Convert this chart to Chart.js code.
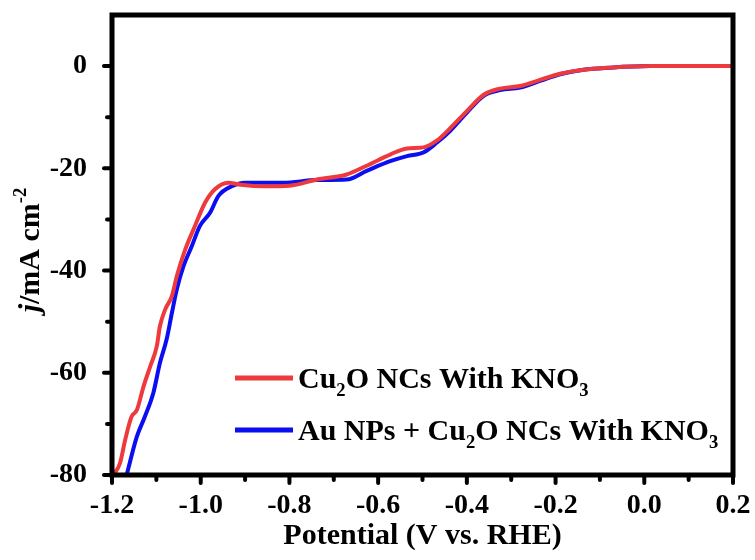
<!DOCTYPE html>
<html>
<head>
<meta charset="utf-8">
<script src="https://cdn.jsdelivr.net/npm/chart.js@4.4.1/dist/chart.umd.min.js"></script>
<style>
  html, body { margin: 0; padding: 0; background: #fff; }
  #wrap { width: 755px; height: 560px; }
</style>
</head>
<body>
<div id="wrap"><canvas id="lsv"></canvas></div>
<script>
// LSV curves, potential in V vs. RHE, current density in mA cm-2
const cu2oPotential = [-1.197, -1.182, -1.170, -1.156, -1.144, -1.129, -1.114, -1.099, -1.092, -1.080,
  -1.065, -1.054, -1.035, -1.013, -0.990, -0.968, -0.938, -0.910, -0.855, -0.800, -0.738, -0.671,
  -0.626, -0.573, -0.535, -0.498, -0.468, -0.438, -0.400, -0.362, -0.325, -0.280, -0.235, -0.190,
  -0.137, -0.077, 0.013, 0.100, 0.200];
const cu2oCurrent = [-80, -77.7, -73.0, -68.6, -67.3, -62.7, -58.8, -54.8, -50.9, -47.6,
  -45.0, -41.1, -35.9, -31.3, -26.7, -24.1, -22.8, -23.2, -23.5, -23.4, -22.2, -21.2,
  -19.5, -17.3, -16.1, -15.9, -14.6, -12.2, -8.8, -5.6, -4.4, -3.9, -2.7, -1.5,
  -0.7, -0.3, 0, 0, 0];

const auCu2oPotential = [-1.167, -1.144, -1.126, -1.107, -1.092, -1.077, -1.065, -1.054, -1.039, -1.020,
  -1.002, -0.979, -0.960, -0.930, -0.900, -0.855, -0.814, -0.738, -0.671, -0.626, -0.573, -0.535,
  -0.498, -0.468, -0.438, -0.400, -0.362, -0.325, -0.280, -0.235, -0.190, -0.137, -0.077, 0.013,
  0.100, 0.200];
const auCu2oCurrent = [-80, -72.5, -68.6, -64.0, -58.1, -53.5, -48.3, -43.7, -39.2, -35.2,
  -31.3, -28.7, -25.4, -23.5, -22.8, -22.8, -22.8, -22.3, -22.2, -20.5, -18.6, -17.6,
  -16.9, -15.0, -12.7, -9.1, -5.8, -4.7, -4.2, -2.9, -1.6, -0.7, -0.3, 0,
  0, 0];

const xMajor = [-1.2, -1.0, -0.8, -0.6, -0.4, -0.2, 0.0, 0.2];
const xMinor = [-1.1, -0.9, -0.7, -0.5, -0.3, -0.1, 0.1];
const yMajor = [-80, -60, -40, -20, 0];
const yMinor = [-70, -50, -30, -10];

const RED = '#ee3a3d';
const BLUE = '#0a0ef0';
const SERIF = '"Liberation Serif", "Times New Roman", serif';

function toPoints(xs, ys) {
  return xs.map((x, i) => ({ x: x, y: ys[i] }));
}

function fmtPotential(v) {
  return Math.abs(v) < 1e-9 ? '0.0' : v.toFixed(1);
}

// draws text pieces in a row, subscripts/superscripts shifted and smaller
function drawRich(ctx, parts, x, y, size) {
  parts.forEach(p => {
    let fs = size, dy = 0;
    if (p.sub) { fs = size * 0.62; dy = size * 0.25; }
    if (p.sup) { fs = size * 0.62; dy = -size * 0.42; }
    ctx.font = (p.italic ? 'italic ' : '') + 'bold ' + fs + 'px ' + SERIF;
    ctx.fillText(p.t, x, y + dy);
    x += ctx.measureText(p.t).width;
  });
}

// keep the plot box at a fixed size, no extra room for end labels
function fixBox(size) {
  return s => {
    if (s.isHorizontal()) s.height = size; else s.width = size;
    s.paddingTop = 0; s.paddingBottom = 0; s.paddingLeft = 0; s.paddingRight = 0;
  };
}

// frame, ticks, x labels, axis titles and legend
const framePlugin = {
  id: 'frame',
  afterDatasetsDraw(chart) {
    const ctx = chart.ctx;
    const a = chart.chartArea;
    const xs = chart.scales.x, ys = chart.scales.y;
    ctx.save();
    ctx.strokeStyle = '#000';
    ctx.lineWidth = 5;
    ctx.strokeRect(a.left, a.top, a.right - a.left, a.bottom - a.top);

    ctx.lineWidth = 4;
    ctx.lineCap = 'round';
    const tick = (x1, y1, x2, y2) => { ctx.beginPath(); ctx.moveTo(x1, y1); ctx.lineTo(x2, y2); ctx.stroke(); };
    xMajor.forEach(v => { const p = xs.getPixelForValue(v); tick(p, a.bottom, p, a.bottom + 8); });
    xMinor.forEach(v => { const p = xs.getPixelForValue(v); tick(p, a.bottom, p, a.bottom + 5); });
    yMajor.forEach(v => { const p = ys.getPixelForValue(v); tick(a.left, p, a.left - 8, p); });
    yMinor.forEach(v => { const p = ys.getPixelForValue(v); tick(a.left, p, a.left - 5, p); });

    ctx.fillStyle = '#000';
    ctx.textBaseline = 'alphabetic';
    ctx.textAlign = 'center';

    // x tick labels
    ctx.font = 'bold 28px ' + SERIF;
    xMajor.forEach(v => ctx.fillText(fmtPotential(v), xs.getPixelForValue(v), a.bottom + 38));

    // axis titles
    ctx.font = 'bold 30px ' + SERIF;
    ctx.fillText('Potential (V vs. RHE)', (a.left + a.right) / 2, 544);

    ctx.textAlign = 'left';
    const yTitle = [{ t: 'j', italic: true }, { t: '/mA cm' }, { t: '-2', sup: true }];
    let w = 0;
    yTitle.forEach(p => {
      const fs = p.sup ? 30 * 0.62 : 30;
      ctx.font = (p.italic ? 'italic ' : '') + 'bold ' + fs + 'px ' + SERIF;
      w += ctx.measureText(p.t).width;
    });
    ctx.translate(39, 250);
    ctx.rotate(-Math.PI / 2);
    drawRich(ctx, yTitle, -w / 2, 0, 30);
    ctx.setTransform(1, 0, 0, 1, 0, 0);

    // legend
    const rows = [
      { color: RED, y: a.top + 363, parts: [{ t: 'Cu' }, { t: '2', sub: true }, { t: 'O NCs With KNO' }, { t: '3', sub: true }] },
      { color: BLUE, y: a.top + 415, parts: [{ t: 'Au NPs + Cu' }, { t: '2', sub: true }, { t: 'O NCs With KNO' }, { t: '3', sub: true }] }
    ];
    rows.forEach(r => {
      ctx.strokeStyle = r.color;
      ctx.lineWidth = 5;
      ctx.lineCap = 'butt';
      tick(a.left + 123, r.y, a.left + 181, r.y);
      drawRich(ctx, r.parts, a.left + 186, r.y + 10, 30);
    });
    ctx.restore();
  }
};

new Chart(document.getElementById('lsv'), {
  type: 'line',
  data: {
    datasets: [
      {
        label: 'Cu2O NCs With KNO3',
        data: toPoints(cu2oPotential, cu2oCurrent),
        borderColor: RED,
        borderWidth: 4,
        pointRadius: 0,
        cubicInterpolationMode: 'monotone'
      },
      {
        label: 'Au NPs + Cu2O NCs With KNO3',
        data: toPoints(auCu2oPotential, auCu2oCurrent),
        borderColor: BLUE,
        borderWidth: 4,
        pointRadius: 0,
        cubicInterpolationMode: 'monotone'
      }
    ]
  },
  options: {
    responsive: true,
    maintainAspectRatio: false,
    animation: false,
    layout: { padding: { top: 15, right: 22, left: 0, bottom: 0 } },
    plugins: { legend: { display: false }, tooltip: { enabled: false } },
    scales: {
      x: {
        type: 'linear',
        min: -1.2,
        max: 0.2,
        afterFit: fixBox(85),
        grid: { display: false },
        border: { display: false },
        ticks: { display: false }
      },
      y: {
        min: -80,
        max: 10,
        afterFit: fixBox(112),
        afterBuildTicks: s => { s.ticks = yMajor.map(v => ({ value: v })); },
        grid: { display: false },
        border: { display: false },
        ticks: {
          padding: 17,
          color: '#000',
          font: { family: SERIF, size: 28, weight: 'bold' }
        }
      }
    }
  },
  plugins: [framePlugin]
});
</script>
</body>
</html>
